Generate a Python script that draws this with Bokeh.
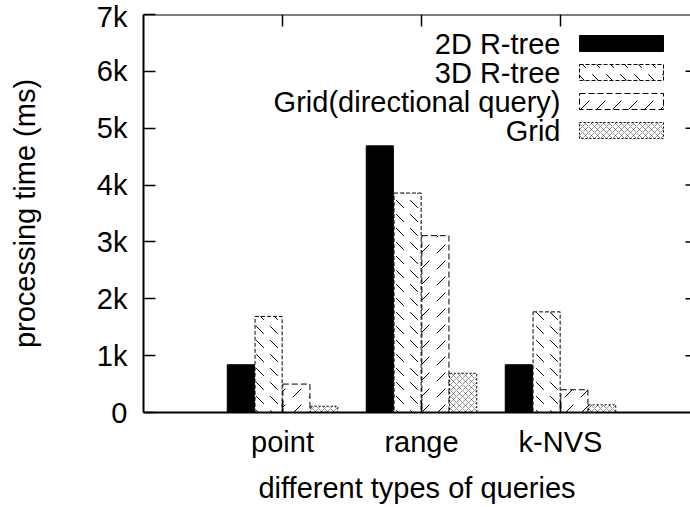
from bokeh.plotting import figure
from bokeh.models import Range1d, FixedTicker, Label, BoxAnnotation, ColumnDataSource, Span
from bokeh.embed import file_html
from bokeh.resources import INLINE

# ---- data ----
categories = ["point", "range", "k-NVS"]
series_names = ["2D R-tree", "3D R-tree", "Grid(directional query)", "Grid"]
rtree2d = [840, 4690, 840]
rtree3d = [1690, 3860, 1770]
grid_dir = [500, 3110, 400]
grid = [110, 690, 135]
y_ticks = [0, 1000, 2000, 3000, 4000, 5000, 6000, 7000]
y_tick_labels = ["0", "1k", "2k", "3k", "4k", "5k", "6k", "7k"]
x_label = "different types of queries"
y_label = "processing time (ms)"

FONT = "Liberation Sans"
FS = "29px"

W, H = 690, 507
L, R, T, B = 143, 690, 14, 412
X0, X1 = -1.0, (R - 282) / 139.0
Y0, Y1 = 0, 7000

def px2x(px):
    return X0 + (px - L) * (X1 - X0) / (R - L)

def py2y(py):
    return Y0 + (B - py) * (Y1 - Y0) / (B - T)

def dx(px):
    return px * (X1 - X0) / (R - L)

def dy(px):
    return px * (Y1 - Y0) / (B - T)

p = figure(width=W, height=H, output_backend="svg", toolbar_location=None,
           x_range=Range1d(X0, X1), y_range=Range1d(Y0, Y1),
           min_border_left=L, min_border_right=W - R, min_border_top=T,
           min_border_bottom=H - B)
p.outline_line_color = None
p.xgrid.visible = False
p.ygrid.visible = False
p.background_fill_color = "white"
p.border_fill_color = "white"

styles = [
    dict(fill_color="black", line_dash="solid", hatch_pattern=None),
    dict(fill_color="white", line_dash="4 2", hatch_pattern="left_diagonal_dash", hatch_scale=14, hatch_weight=1, hatch_alpha=1.0),
    dict(fill_color="white", line_dash="6 3", hatch_pattern="right_diagonal_dash", hatch_scale=16, hatch_weight=1, hatch_alpha=1.0),
    dict(fill_color="white", line_dash="2 2", hatch_pattern="diagonal_cross", hatch_scale=6, hatch_weight=0.6, hatch_alpha=0.7),
]
offsets = [-0.3, -0.1, 0.1, 0.3]
all_series = [rtree2d, rtree3d, grid_dir, grid]

def style_kw(st):
    kw = dict(fill_color=st["fill_color"], line_color="black", line_dash=st["line_dash"], line_width=1)
    if st["hatch_pattern"]:
        kw.update(hatch_pattern=st["hatch_pattern"], hatch_color="black", hatch_scale=st["hatch_scale"],
                  hatch_weight=st["hatch_weight"], hatch_alpha=st["hatch_alpha"])
    return kw

for vals, off, st in zip(all_series, offsets, styles):
    src = ColumnDataSource(dict(x=[i + off for i in range(len(categories))], top=vals))
    p.vbar(x="x", top="top", width=0.195, bottom=0, source=src, **style_kw(st))

# axes
xa = p.xaxis[0]
xa.ticker = FixedTicker(ticks=list(range(len(categories))))
xa.major_label_overrides = {i: c for i, c in enumerate(categories)}
ya = p.yaxis[0]
ya.ticker = FixedTicker(ticks=y_ticks)
ya.major_label_overrides = {t: l for t, l in zip(y_ticks, y_tick_labels)}
for ax in (xa, ya):
    ax.major_tick_in = 12
    ax.major_tick_out = 0
    ax.minor_tick_in = 0
    ax.minor_tick_out = 0
    ax.axis_line_width = 2
    ax.major_tick_line_width = 1.5
    ax.major_label_text_font = FONT
    ax.major_label_text_font_size = FS
    ax.major_label_text_color = "black"
    ax.axis_label_text_font = FONT
    ax.axis_label_text_font_size = FS
    ax.axis_label_text_font_style = "normal"
    ax.axis_label_text_color = "black"
xa.axis_label = x_label
ya.axis_label = y_label
xa.major_label_standoff = 13
xa.axis_label_standoff = 11
ya.major_label_standoff = 16
ya.axis_label_standoff = 53

# top border and mirrored ticks (top and right)
p.add_layout(Span(location=Y1, dimension="width", line_color="black", line_width=2))
cat_idx = list(range(len(categories)))
p.segment(x0=cat_idx, x1=cat_idx, y0=[Y1] * len(cat_idx), y1=[Y1 - dy(12)] * len(cat_idx),
          line_color="black", line_width=1.5)
inner = y_ticks[1:-1]
p.segment(x0=[X1 - dx(5)] * len(inner), x1=[X1] * len(inner), y0=inner, y1=inner,
          line_color="black", line_width=1.5)

# legend (label left, sample right, like gnuplot)
text_right = 560
box_l, box_r = 579, 663
row_y = [43, 72, 101, 130]
for name, st, ry in zip(series_names, styles, row_y):
    p.add_layout(Label(x=px2x(text_right), y=py2y(ry), text=name, text_align="right",
                       text_baseline="middle", text_font=FONT, text_font_size=FS, text_color="black"))
    kw = style_kw(st)
    kw.update(left=px2x(box_l), right=px2x(box_r), top=py2y(ry - 8), bottom=py2y(ry + 8),
              fill_alpha=1.0, line_alpha=1.0)
    p.add_layout(BoxAnnotation(**kw))

open("out.html", "w").write(file_html(p, INLINE))
